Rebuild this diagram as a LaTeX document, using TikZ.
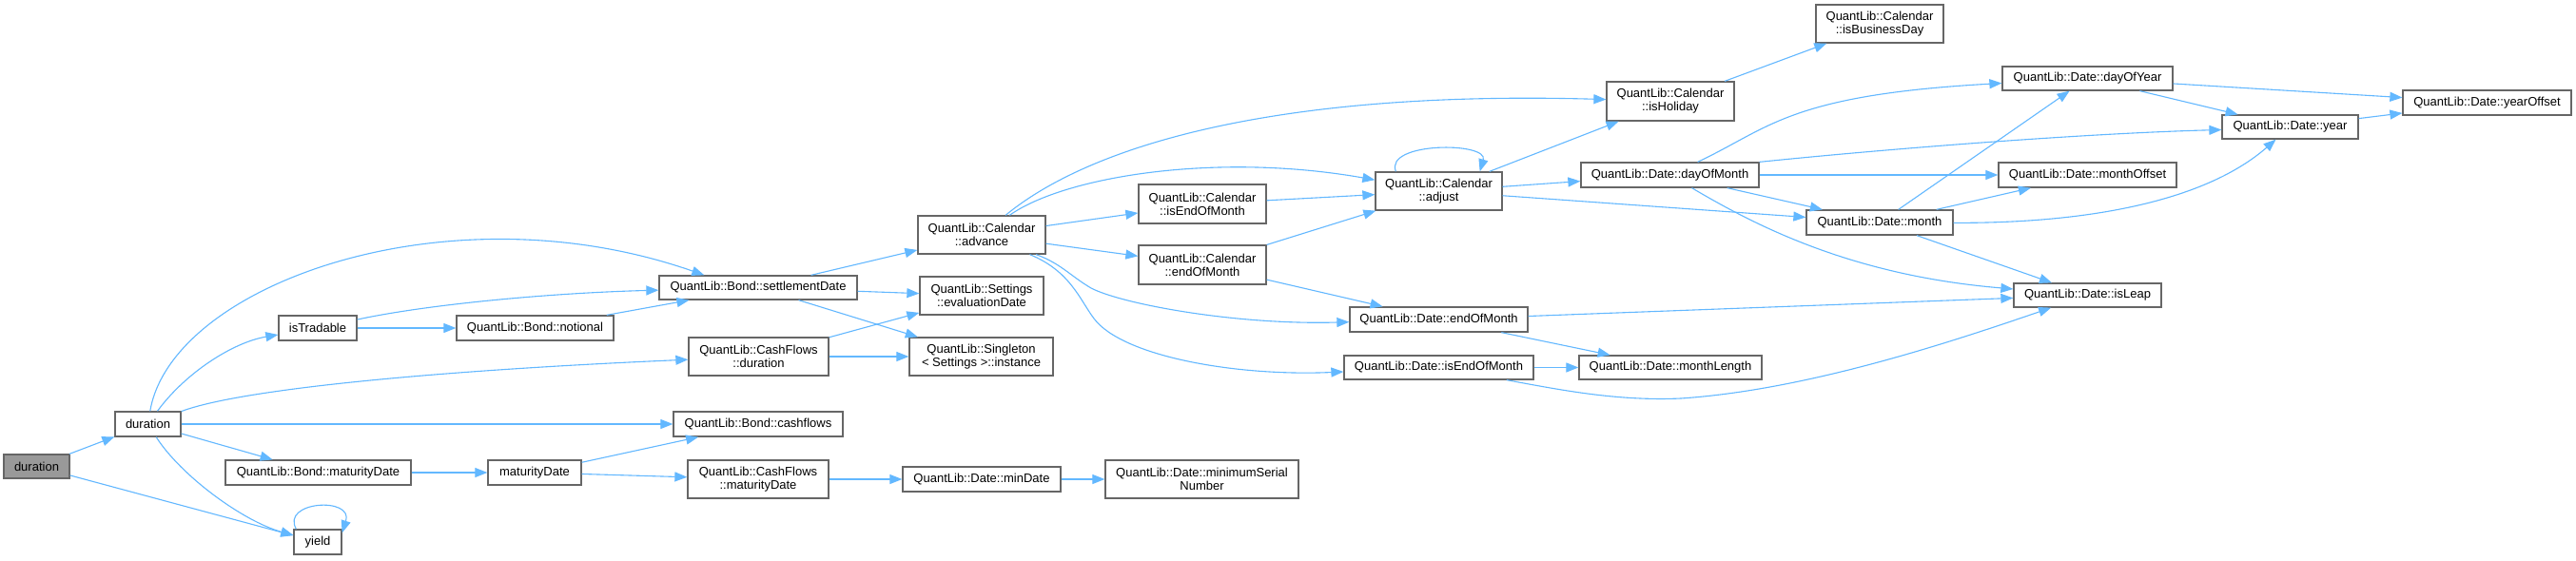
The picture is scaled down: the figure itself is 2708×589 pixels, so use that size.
\documentclass[tikz,border=0pt]{standalone}
\usepackage{fontspec}
\setmainfont{Liberation Sans}
\usetikzlibrary{arrows.meta,calc}
\definecolor{edgeblue}{HTML}{63B8FF}
\definecolor{boxline}{HTML}{666666}
\definecolor{rootfill}{HTML}{999999}
\begin{document}
\begin{tikzpicture}[x=1pt,y=-1pt,
  nb/.style={draw=boxline, fill=white, line width=1.3pt, inner sep=0pt, align=center, font=\fontsize{13}{14}\selectfont, text=black},
  rootbox/.style={nb, fill=rootfill},
  e/.style={draw=edgeblue, line width=1.1pt, -{Triangle[length=13pt,width=10pt]}}]
\fill[white] (0,0) rectangle (2708,589);
\useasboundingbox (0,0) rectangle (2708,589);
% nodes
\node[rootbox, minimum width=69pt, minimum height=25pt] (root) at (38.5,490.5) {duration};
\node[nb, minimum width=69pt, minimum height=26pt] (dur) at (155.5,446) {duration};
\node[nb, minimum width=50pt, minimum height=26pt] (yield) at (334,570) {yield};
\node[nb, minimum width=82pt, minimum height=26pt] (trad) at (334,345) {isTradable};
\node[nb, minimum width=195pt, minimum height=26pt] (bmat) at (334.5,497) {QuantLib::Bond::maturityDate};
\node[nb, minimum width=165pt, minimum height=26pt] (notional) at (562.5,345) {QuantLib::Bond::notional};
\node[nb, minimum width=98pt, minimum height=26pt] (mat) at (562,497) {maturityDate};
\node[nb, minimum width=208pt, minimum height=25pt] (settle) at (797,302.5) {QuantLib::Bond::settlementDate};
\node[nb, minimum width=147pt, minimum height=40pt] (cfdur) at (797.5,375) {QuantLib::CashFlows\\::duration};
\node[nb, minimum width=178pt, minimum height=26pt] (cash) at (797,446) {QuantLib::Bond::cashflows};
\node[nb, minimum width=148pt, minimum height=40pt] (cfmat) at (797,504) {QuantLib::CashFlows\\::maturityDate};
\node[nb, minimum width=134pt, minimum height=40pt] (adv) at (1032,247) {QuantLib::Calendar\\::advance};
\node[nb, minimum width=130pt, minimum height=40pt] (evald) at (1032,311) {QuantLib::Settings\\::evaluationDate};
\node[nb, minimum width=151pt, minimum height=40pt] (single) at (1031.5,375) {QuantLib::Singleton\\< Settings >::instance};
\node[nb, minimum width=166pt, minimum height=26pt] (mind) at (1032,504) {QuantLib::Date::minDate};
\node[nb, minimum width=134pt, minimum height=41pt] (calieom) at (1264,214.5) {QuantLib::Calendar\\::isEndOfMonth};
\node[nb, minimum width=134pt, minimum height=41pt] (caleom) at (1264,278.5) {QuantLib::Calendar\\::endOfMonth};
\node[nb, minimum width=203pt, minimum height=40pt] (minser) at (1263.5,504) {QuantLib::Date::minimumSerial\\Number};
\node[nb, minimum width=133pt, minimum height=40pt] (adj) at (1512.5,201) {QuantLib::Calendar\\::adjust};
\node[nb, minimum width=187pt, minimum height=26pt] (deom) at (1512.5,336) {QuantLib::Date::endOfMonth};
\node[nb, minimum width=199pt, minimum height=25pt] (dieom) at (1512.5,386.5) {QuantLib::Date::isEndOfMonth};
\node[nb, minimum width=134pt, minimum height=41pt] (hol) at (1756,106.5) {QuantLib::Calendar\\::isHoliday};
\node[nb, minimum width=187pt, minimum height=26pt] (dom) at (1755.5,184) {QuantLib::Date::dayOfMonth};
\node[nb, minimum width=192pt, minimum height=25pt] (mlen) at (1756,386.5) {QuantLib::Date::monthLength};
\node[nb, minimum width=134pt, minimum height=40pt] (bday) at (1976,25) {QuantLib::Calendar\\::isBusinessDay};
\node[nb, minimum width=154pt, minimum height=26pt] (month) at (1976,234) {QuantLib::Date::month};
\node[nb, minimum width=179pt, minimum height=25pt] (doy) at (2194.5,82.5) {QuantLib::Date::dayOfYear};
\node[nb, minimum width=187pt, minimum height=26pt] (moff) at (2194.5,184) {QuantLib::Date::monthOffset};
\node[nb, minimum width=155pt, minimum height=25pt] (leap) at (2194.5,310.5) {QuantLib::Date::isLeap};
\node[nb, minimum width=143pt, minimum height=25pt] (year) at (2407.5,133.5) {QuantLib::Date::year};
\node[nb, minimum width=177pt, minimum height=26pt] (yoff) at (2614.5,108) {QuantLib::Date::yearOffset};
% edges
\draw[e] (root) -- (dur);
\draw[e] (root) -- (yield);
\draw[e] (dur) .. controls (180,300) and (470,195) .. ($(settle.north west)+(48,0)$);
\draw[e] (dur) .. controls (195,392) and (245,360) .. (trad);
\draw[e] (dur) .. controls (250,410) and (450,390) .. (cfdur);
\draw[e] (dur) -- (cash);
\draw[e] (dur) -- (bmat);
\draw[e] (dur) .. controls (190,500) and (255,548) .. (yield);
\draw[e] ($(yield.north west)+(3,0)$) .. controls (295,527) and (372,522) .. ($(yield.north east)+(0,4)$);
\draw[e] (trad) .. controls (450,320) and (580,308) .. (settle);
\draw[e] (trad) -- (notional);
\draw[e] (notional) -- (settle);
\draw[e] (settle) -- (adv);
\draw[e] (settle) -- (evald);
\draw[e] (settle) -- (single);
\draw[e] (cfdur) -- (evald);
\draw[e] (cfdur) -- (single);
\draw[e] (bmat) -- (mat);
\draw[e] (mat) -- (cash);
\draw[e] (mat) -- (cfmat);
\draw[e] (cfmat) -- (mind);
\draw[e] (mind) -- (minser);
\draw[e] (adv) .. controls (1150,150) and (1350,95) .. (hol);
\draw[e] (adv) .. controls (1120,185) and (1280,160) .. (adj);
\draw[e] (adv) -- (calieom);
\draw[e] (adv) -- (caleom);
\draw[e] (adv) .. controls (1115,277) and (1125,290) .. (1147,303) .. controls (1180,320) and (1300,342) .. (deom);
\draw[e] (adv) .. controls (1125,285) and (1135,315) .. (1150,335) .. controls (1180,375) and (1300,396) .. (dieom);
\draw[e] (calieom) -- (adj);
\draw[e] (caleom) -- (adj);
\draw[e] (caleom) -- (deom);
\draw[e] ($(adj.north west)+(22,0)$) .. controls (1455,149) and (1565,149) .. ($(adj.north east)+(-24,0)$);
\draw[e] (adj) -- (hol);
\draw[e] (adj) -- (dom);
\draw[e] (adj) -- (month);
\draw[e] (hol) -- (bday);
\draw[e] (dom) .. controls (1860,135) and (1880,100) .. (doy);
\draw[e] (dom.north east) .. controls (2000,155) and (2200,140) .. ($(year.west)+(0,3)$);
\draw[e] (dom) -- (moff);
\draw[e] (dom) -- (month);
\draw[e] (dom) .. controls (1850,240) and (1950,290) .. (leap);
\draw[e] (month) -- (doy);
\draw[e] (month) -- (moff);
\draw[e] (month) .. controls (2200,235) and (2320,210) .. (year);
\draw[e] (month) -- (leap);
\draw[e] (doy) -- (yoff);
\draw[e] (doy) -- (year);
\draw[e] (year) -- (yoff);
\draw[e] (deom) -- (leap);
\draw[e] (deom) -- (mlen);
\draw[e] (dieom) -- (mlen);
\draw[e] (dieom) .. controls (1640,410) and (1700,422) .. (1767,419) .. controls (1900,410) and (2050,360) .. (leap);
\end{tikzpicture}
\end{document}
